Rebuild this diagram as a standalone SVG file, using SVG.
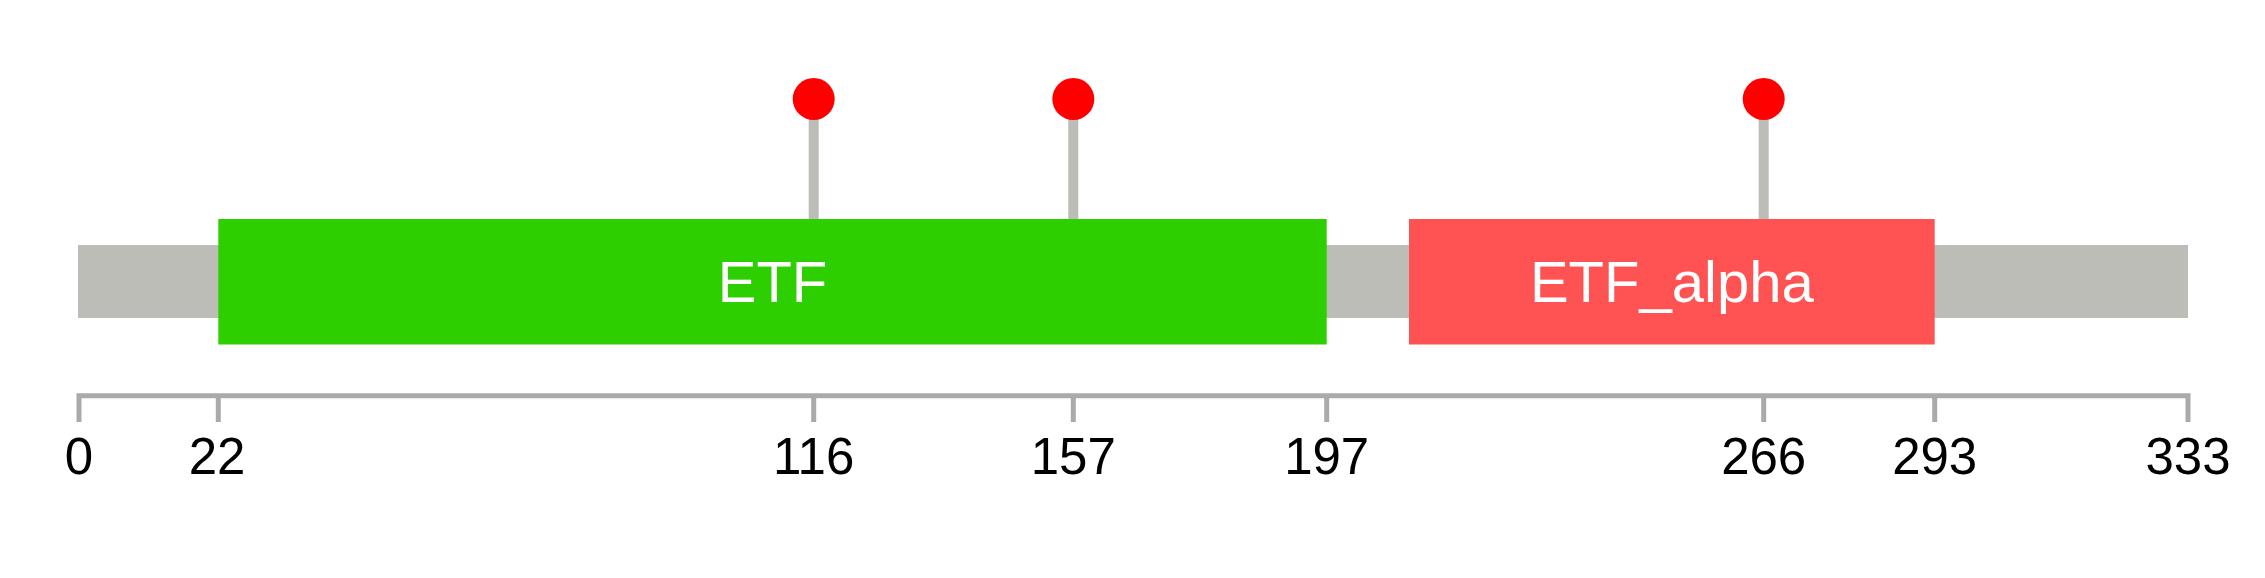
<svg xmlns="http://www.w3.org/2000/svg" width="2265" height="578" viewBox="0 0 2265 578">
<style>
.stem{stroke:#BBBDB6;stroke-width:10}
.dot{fill:#FF0000}
.axis{stroke:#AAAAAA;stroke-width:5;fill:none}
.num{font-family:"Liberation Sans",Arial,sans-serif;font-size:51px;fill:#000;text-anchor:middle}
.dom{font-family:"Liberation Sans",Arial,sans-serif;font-size:58px;fill:#FFF;text-anchor:middle}
</style>
<rect width="2265" height="578" fill="#FFFFFF"/>
<g id="backbone"><rect x="78" y="245" width="2110" height="73" fill="#BBBDB6"/></g>
<g id="connectors">
<line class="stem" x1="813.7" y1="99" x2="813.7" y2="220"/>
<line class="stem" x1="1073.3" y1="99" x2="1073.3" y2="220"/>
<line class="stem" x1="1763.7" y1="99" x2="1763.7" y2="220"/>
</g>
<g id="domain-ETF"><rect x="218.3" y="219" width="1108.4" height="125.5" fill="#2ECF00"/><text class="dom" x="772.5" y="302">ETF</text></g>
<g id="domain-ETF_alpha"><rect x="1409" y="219" width="525.7" height="125.5" fill="#FF5353"/><text class="dom" x="1671.8" y="302">ETF_alpha</text></g>
<g id="site-116"><circle class="dot" cx="813.7" cy="99" r="21"/></g>
<g id="site-157"><circle class="dot" cx="1073.3" cy="99" r="21"/></g>
<g id="site-266"><circle class="dot" cx="1763.7" cy="99" r="21"/></g>
<g id="axis">
<path class="axis" d="M79 422V395.8H2188V422"/>
<path class="axis" d="M218.3 395.8V422M813.7 395.8V422M1073.3 395.8V422M1326.7 395.8V422M1763.7 395.8V422M1934.7 395.8V422"/>
<text class="num" x="79" y="474">0</text>
<text class="num" x="217" y="474">22</text>
<text class="num" x="813.7" y="474">116</text>
<text class="num" x="1073.3" y="474">157</text>
<text class="num" x="1326.7" y="474">197</text>
<text class="num" x="1763.7" y="474">266</text>
<text class="num" x="1934.7" y="474">293</text>
<text class="num" x="2188" y="474">333</text>
</g>
</svg>
